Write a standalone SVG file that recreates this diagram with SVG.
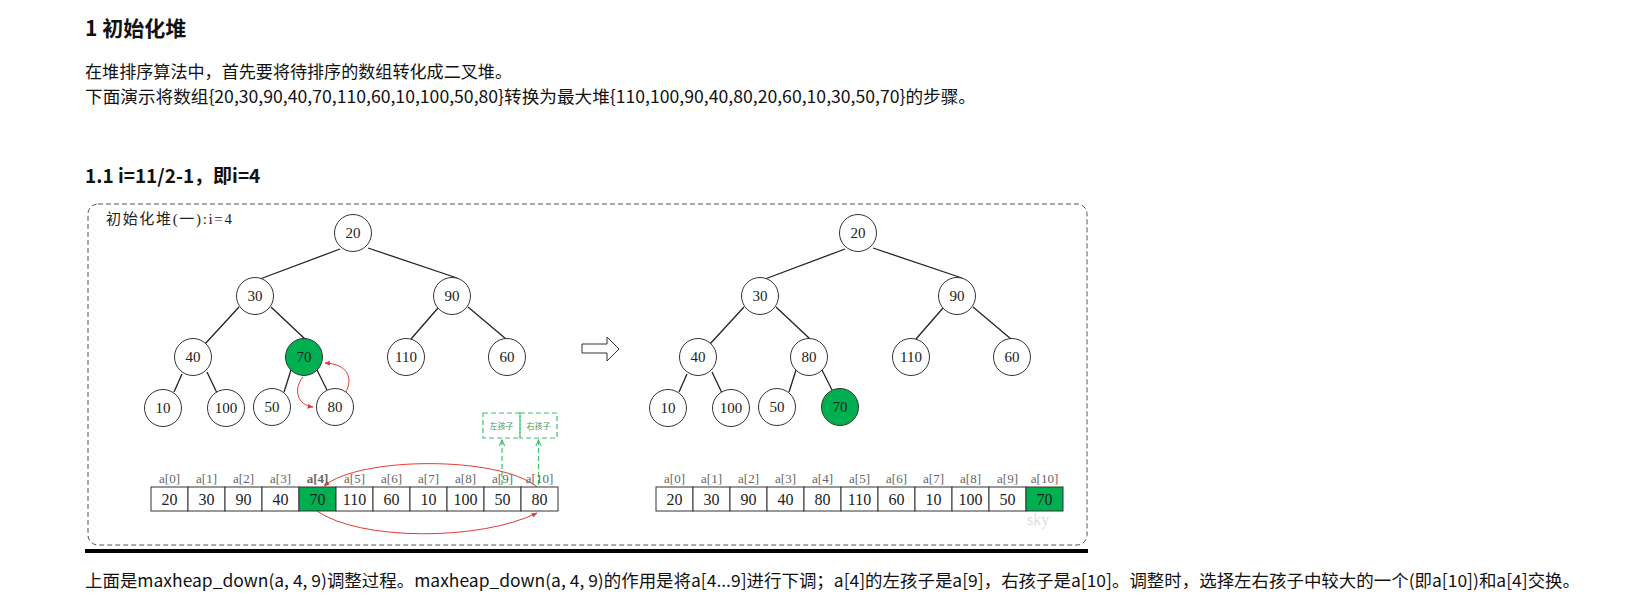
<svg xmlns="http://www.w3.org/2000/svg" width="1635" height="614" viewBox="0 0 1635 614">
<style>
.h{font-family:"Noto Sans CJK SC","Noto Sans",sans-serif;font-weight:bold;fill:#111}
.p{font-family:"Noto Sans CJK SC","Noto Sans",sans-serif;font-size:17px;fill:#111}
.nd circle{fill:#fff;stroke:#333;stroke-width:1}
.nd.hl circle{fill:#00B050}
.nd text{font-family:"Liberation Serif","Noto Sans CJK SC",serif;font-size:15px;text-anchor:middle;fill:#222}
.edge{stroke:#222;stroke-width:1.3;fill:none}
.red{stroke:#E53935;stroke-width:1;fill:none}
.cell rect{fill:#fff;stroke:#333;stroke-width:1}
.cell.hl rect{fill:#00B050}
.cell text{font-family:"Liberation Serif",serif;font-size:16px;text-anchor:middle;fill:#222}
.lbl{font-family:"Liberation Serif",serif;font-size:13px;text-anchor:middle;fill:#666}
.gbox rect{fill:none;stroke:#3DBE6E;stroke-width:1.2;stroke-dasharray:5,3}
.gbox text{font-family:"Noto Sans CJK SC",sans-serif;font-size:8px;text-anchor:middle;fill:#3a9a5a}
.gline{stroke:#3DBE6E;stroke-width:1.2;stroke-dasharray:5,3;fill:none}
</style>
<defs>
<marker id="ra" viewBox="0 0 10 10" refX="9" refY="5" markerWidth="6" markerHeight="6" orient="auto" markerUnits="userSpaceOnUse"><path d="M0,1 L10,5 L0,9 z" fill="#E53935"/></marker>
<marker id="ga" viewBox="0 0 10 10" refX="1" refY="5" markerWidth="7" markerHeight="7" orient="auto" markerUnits="userSpaceOnUse"><path d="M10,1 L1,5 L10,9" fill="none" stroke="#3DBE6E" stroke-width="1.5"/></marker>
</defs>
<rect width="1635" height="614" fill="#fff"/>

<g id="texts">
<text class="h" x="85" y="36" font-size="21">1 初始化堆</text>
<text class="p" x="85" y="78" textLength="427" lengthAdjust="spacingAndGlyphs">在堆排序算法中，首先要将待排序的数组转化成二叉堆。</text>
<text class="p" x="85" y="103" textLength="891" lengthAdjust="spacingAndGlyphs">下面演示将数组{20,30,90,40,70,110,60,10,100,50,80}转换为最大堆{110,100,90,40,80,20,60,10,30,50,70}的步骤。</text>
<text class="h" x="85" y="183" font-size="19">1.1 i=11/2-1，即i=4</text>
<text class="p" x="85" y="587" textLength="1495" lengthAdjust="spacingAndGlyphs">上面是maxheap_down(a, 4, 9)调整过程。maxheap_down(a, 4, 9)的作用是将a[4...9]进行下调；a[4]的左孩子是a[9]，右孩子是a[10]。调整时，选择左右孩子中较大的一个(即a[10])和a[4]交换。</text>
</g>

<g id="frame">
<rect x="88" y="204" width="999" height="341" rx="10" fill="none" stroke="#555" stroke-width="1" stroke-dasharray="5,3"/>
<line x1="85" y1="551" x2="1088" y2="551" stroke="#000" stroke-width="4"/>
<text x="106" y="224" font-family="Liberation Serif,Noto Sans CJK SC,serif" font-size="15" fill="#222" textLength="126" lengthAdjust="spacing">初始化堆(一):i=4</text>
</g>

<g id="connectors">
<line class="edge" x1="340" y1="249" x2="260" y2="279"/>
<line class="edge" x1="368" y1="248" x2="457" y2="278"/>
<line class="edge" x1="239" y1="307" x2="205" y2="344"/>
<line class="edge" x1="271" y1="307" x2="305" y2="339"/>
<line class="edge" x1="438" y1="308" x2="411" y2="339"/>
<line class="edge" x1="468" y1="307" x2="506" y2="339"/>
<line class="edge" x1="182" y1="374" x2="174" y2="392"/>
<line class="edge" x1="207" y1="372" x2="217" y2="393"/>
<line class="edge" x1="291" y1="370" x2="284" y2="392"/>
<line class="edge" x1="317" y1="370" x2="327" y2="390"/>

<line class="edge" x1="845" y1="249" x2="765" y2="279"/>
<line class="edge" x1="873" y1="248" x2="962" y2="278"/>
<line class="edge" x1="744" y1="307" x2="710" y2="344"/>
<line class="edge" x1="776" y1="307" x2="810" y2="339"/>
<line class="edge" x1="943" y1="308" x2="916" y2="339"/>
<line class="edge" x1="973" y1="307" x2="1011" y2="339"/>
<line class="edge" x1="687" y1="374" x2="679" y2="392"/>
<line class="edge" x1="712" y1="372" x2="722" y2="393"/>
<line class="edge" x1="796" y1="370" x2="789" y2="392"/>
<line class="edge" x1="822" y1="370" x2="832" y2="390"/>

<path class="red" d="M303,377 C293,389 297,405 313,407" marker-end="url(#ra)"/>
<path class="red" d="M346,392 C353,378 348,364 325,363" marker-end="url(#ra)"/>
<path class="red" d="M537,487 C500,456 360,456 324,486" marker-end="url(#ra)"/>
<path class="red" d="M317,511 C360,541 480,541 537,513" marker-end="url(#ra)"/>

<line class="gline" x1="502" y1="440" x2="502" y2="487" marker-start="url(#ga)"/>
<line class="gline" x1="538.5" y1="440" x2="538.5" y2="487" marker-start="url(#ga)"/>

<polygon points="582,344 607,344 607,337 619,349 607,361 607,353 582,353" fill="#fff" stroke="#333" stroke-width="1"/>
</g>

<g id="L20" class="nd"><circle cx="353" cy="233" r="18.5"/><text x="353" y="238">20</text></g>
<g id="L30" class="nd"><circle cx="255" cy="296" r="18.5"/><text x="255" y="301">30</text></g>
<g id="L90" class="nd"><circle cx="452" cy="296" r="18.5"/><text x="452" y="301">90</text></g>
<g id="L40" class="nd"><circle cx="193" cy="357" r="18.5"/><text x="193" y="362">40</text></g>
<g id="L70" class="nd hl"><circle cx="304" cy="357" r="18.5"/><text x="304" y="362">70</text></g>
<g id="L110" class="nd"><circle cx="406" cy="357" r="18.5"/><text x="406" y="362">110</text></g>
<g id="L60" class="nd"><circle cx="507" cy="357" r="18.5"/><text x="507" y="362">60</text></g>
<g id="L10" class="nd"><circle cx="163" cy="408" r="18.5"/><text x="163" y="413">10</text></g>
<g id="L100" class="nd"><circle cx="226" cy="408" r="18.5"/><text x="226" y="413">100</text></g>
<g id="L50" class="nd"><circle cx="272" cy="407" r="18.5"/><text x="272" y="412">50</text></g>
<g id="L80" class="nd"><circle cx="335" cy="407" r="18.5"/><text x="335" y="412">80</text></g>

<g id="R20" class="nd"><circle cx="858" cy="233" r="18.5"/><text x="858" y="238">20</text></g>
<g id="R30" class="nd"><circle cx="760" cy="296" r="18.5"/><text x="760" y="301">30</text></g>
<g id="R90" class="nd"><circle cx="957" cy="296" r="18.5"/><text x="957" y="301">90</text></g>
<g id="R40" class="nd"><circle cx="698" cy="357" r="18.5"/><text x="698" y="362">40</text></g>
<g id="R80" class="nd"><circle cx="809" cy="357" r="18.5"/><text x="809" y="362">80</text></g>
<g id="R110" class="nd"><circle cx="911" cy="357" r="18.5"/><text x="911" y="362">110</text></g>
<g id="R60" class="nd"><circle cx="1012" cy="357" r="18.5"/><text x="1012" y="362">60</text></g>
<g id="R10" class="nd"><circle cx="668" cy="408" r="18.5"/><text x="668" y="413">10</text></g>
<g id="R100" class="nd"><circle cx="731" cy="408" r="18.5"/><text x="731" y="413">100</text></g>
<g id="R50" class="nd"><circle cx="777" cy="407" r="18.5"/><text x="777" y="412">50</text></g>
<g id="R70" class="nd hl"><circle cx="840" cy="407" r="18.5"/><text x="840" y="412">70</text></g>

<g id="gboxL" class="gbox"><rect x="483" y="413" width="37" height="25"/><text x="501.5" y="428.5">左孩子</text></g>
<g id="gboxR" class="gbox"><rect x="520" y="413" width="37" height="25"/><text x="538.5" y="428.5">右孩子</text></g>

<g id="arrayL">
<text class="lbl" x="169.5" y="483">a[0]</text>
<text class="lbl" x="206.5" y="483">a[1]</text>
<text class="lbl" x="243.5" y="483">a[2]</text>
<text class="lbl" x="280.5" y="483">a[3]</text>
<text class="lbl" x="317.5" y="483" fill="#111" font-weight="bold">a[4]</text>
<text class="lbl" x="354.5" y="483">a[5]</text>
<text class="lbl" x="391.5" y="483">a[6]</text>
<text class="lbl" x="428.5" y="483">a[7]</text>
<text class="lbl" x="465.5" y="483">a[8]</text>
<text class="lbl" x="502.5" y="483">a[9]</text>
<text class="lbl" x="539.5" y="483">a[10]</text>
<g class="cell"><rect x="151" y="487" width="37" height="24"/><text x="169.5" y="505">20</text></g>
<g class="cell"><rect x="188" y="487" width="37" height="24"/><text x="206.5" y="505">30</text></g>
<g class="cell"><rect x="225" y="487" width="37" height="24"/><text x="243.5" y="505">90</text></g>
<g class="cell"><rect x="262" y="487" width="37" height="24"/><text x="280.5" y="505">40</text></g>
<g class="cell hl"><rect x="299" y="487" width="37" height="24"/><text x="317.5" y="505">70</text></g>
<g class="cell"><rect x="336" y="487" width="37" height="24"/><text x="354.5" y="505">110</text></g>
<g class="cell"><rect x="373" y="487" width="37" height="24"/><text x="391.5" y="505">60</text></g>
<g class="cell"><rect x="410" y="487" width="37" height="24"/><text x="428.5" y="505">10</text></g>
<g class="cell"><rect x="447" y="487" width="37" height="24"/><text x="465.5" y="505">100</text></g>
<g class="cell"><rect x="484" y="487" width="37" height="24"/><text x="502.5" y="505">50</text></g>
<g class="cell"><rect x="521" y="487" width="37" height="24"/><text x="539.5" y="505">80</text></g>
</g>

<g id="arrayR">
<text class="lbl" x="674.5" y="483">a[0]</text>
<text class="lbl" x="711.5" y="483">a[1]</text>
<text class="lbl" x="748.5" y="483">a[2]</text>
<text class="lbl" x="785.5" y="483">a[3]</text>
<text class="lbl" x="822.5" y="483">a[4]</text>
<text class="lbl" x="859.5" y="483">a[5]</text>
<text class="lbl" x="896.5" y="483">a[6]</text>
<text class="lbl" x="933.5" y="483">a[7]</text>
<text class="lbl" x="970.5" y="483">a[8]</text>
<text class="lbl" x="1007.5" y="483">a[9]</text>
<text class="lbl" x="1044.5" y="483">a[10]</text>
<g class="cell"><rect x="656" y="487" width="37" height="24"/><text x="674.5" y="505">20</text></g>
<g class="cell"><rect x="693" y="487" width="37" height="24"/><text x="711.5" y="505">30</text></g>
<g class="cell"><rect x="730" y="487" width="37" height="24"/><text x="748.5" y="505">90</text></g>
<g class="cell"><rect x="767" y="487" width="37" height="24"/><text x="785.5" y="505">40</text></g>
<g class="cell"><rect x="804" y="487" width="37" height="24"/><text x="822.5" y="505">80</text></g>
<g class="cell"><rect x="841" y="487" width="37" height="24"/><text x="859.5" y="505">110</text></g>
<g class="cell"><rect x="878" y="487" width="37" height="24"/><text x="896.5" y="505">60</text></g>
<g class="cell"><rect x="915" y="487" width="37" height="24"/><text x="933.5" y="505">10</text></g>
<g class="cell"><rect x="952" y="487" width="37" height="24"/><text x="970.5" y="505">100</text></g>
<g class="cell"><rect x="989" y="487" width="37" height="24"/><text x="1007.5" y="505">50</text></g>
<g class="cell hl"><rect x="1026" y="487" width="37" height="24"/><text x="1044.5" y="505">70</text></g>
<text x="1027" y="525" font-family="Liberation Serif,serif" font-size="16" fill="#bbb" fill-opacity="0.5">sky</text>
</g>
</svg>
